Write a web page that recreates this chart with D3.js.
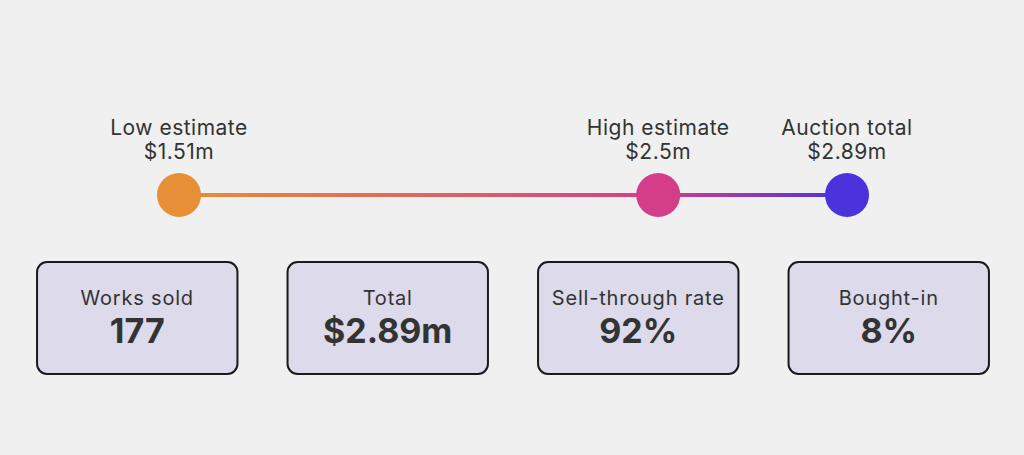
<!DOCTYPE html>
<html>
<head>
<meta charset="utf-8">
<script src="https://cdn.jsdelivr.net/npm/d3@7"></script>
<style>
  html, body { margin: 0; padding: 0; background: #f0f0f0; }
  svg { display: block; font-family: Inter, 'Noto Sans', sans-serif; }
</style>
</head>
<body>
<div id="chart"></div>
<script>
// milestones on the estimate line ($m)
const milestoneNames = ['Low estimate', 'High estimate', 'Auction total'];
const milestoneValues = [1.51, 2.5, 2.89];
const milestoneLabels = ['$1.51m', '$2.5m', '$2.89m'];
const milestoneColors = ['#e78f36', '#d43e88', '#4a33dd'];

// summary cards
const cardNames = ['Works sold', 'Total', 'Sell-through rate', 'Bought-in'];
const cardValues = ['177', '$2.89m', '92%', '8%'];

const width = 1024, height = 455;

const svg = d3.select('#chart').append('svg')
  .attr('width', width)
  .attr('height', height);

const x = d3.scaleLinear()
  .domain(d3.extent(milestoneValues))
  .range([179, 847]);

const lineY = 195, r = 22;

// gradient along the line
const grad = svg.append('defs').append('linearGradient')
  .attr('id', 'lineGrad')
  .attr('gradientUnits', 'userSpaceOnUse')
  .attr('x1', x.range()[0]).attr('x2', x.range()[1])
  .attr('y1', 0).attr('y2', 0);
grad.selectAll('stop')
  .data(milestoneValues)
  .enter()
  .append('stop')
  .attr('offset', d => (x(d) - x.range()[0]) / (x.range()[1] - x.range()[0]))
  .attr('stop-color', (d, i) => milestoneColors[i]);

svg.append('line')
  .attr('x1', x(milestoneValues[0]))
  .attr('x2', x(milestoneValues[milestoneValues.length - 1]))
  .attr('y1', lineY).attr('y2', lineY)
  .attr('stroke', 'url(#lineGrad)')
  .attr('stroke-width', 4);

const points = svg.selectAll('g.point')
  .data(milestoneValues)
  .enter()
  .append('g')
  .attr('class', 'point')
  .attr('transform', d => `translate(${x(d)},${lineY})`);

points.append('circle')
  .attr('r', r)
  .attr('fill', (d, i) => milestoneColors[i]);

points.append('text')
  .attr('y', -60)
  .attr('text-anchor', 'middle')
  .style('font-size', '21px')
  .style('letter-spacing', '0.5px')
  .style('fill', '#333')
  .text((d, i) => milestoneNames[i]);

points.append('text')
  .attr('y', -36)
  .attr('text-anchor', 'middle')
  .style('font-size', '21px')
  .style('letter-spacing', '0.5px')
  .style('fill', '#333')
  .text((d, i) => milestoneLabels[i]);

// cards
const cx = d3.scaleBand()
  .domain(cardNames)
  .range([12, 1014])
  .paddingInner(0.2)
  .paddingOuter(0.1);

const cards = svg.selectAll('g.card')
  .data(cardNames)
  .enter()
  .append('g')
  .attr('class', 'card')
  .attr('transform', d => `translate(${cx(d)},262)`);

cards.append('rect')
  .attr('width', cx.bandwidth())
  .attr('height', 112)
  .attr('rx', 10)
  .attr('fill', '#dcdaeb')
  .attr('stroke', '#1a1a1a')
  .attr('stroke-width', 2);

cards.append('text')
  .attr('x', cx.bandwidth() / 2)
  .attr('y', 43)
  .attr('text-anchor', 'middle')
  .style('font-size', '20px')
  .style('letter-spacing', '0.8px')
  .style('fill', '#333')
  .text(d => d);

cards.append('text')
  .attr('x', cx.bandwidth() / 2)
  .attr('y', 81)
  .attr('text-anchor', 'middle')
  .style('font-size', '34px')
  .style('font-weight', 'bold')
  .style('fill', '#333')
  .text((d, i) => cardValues[i]);
</script>
</body>
</html>
